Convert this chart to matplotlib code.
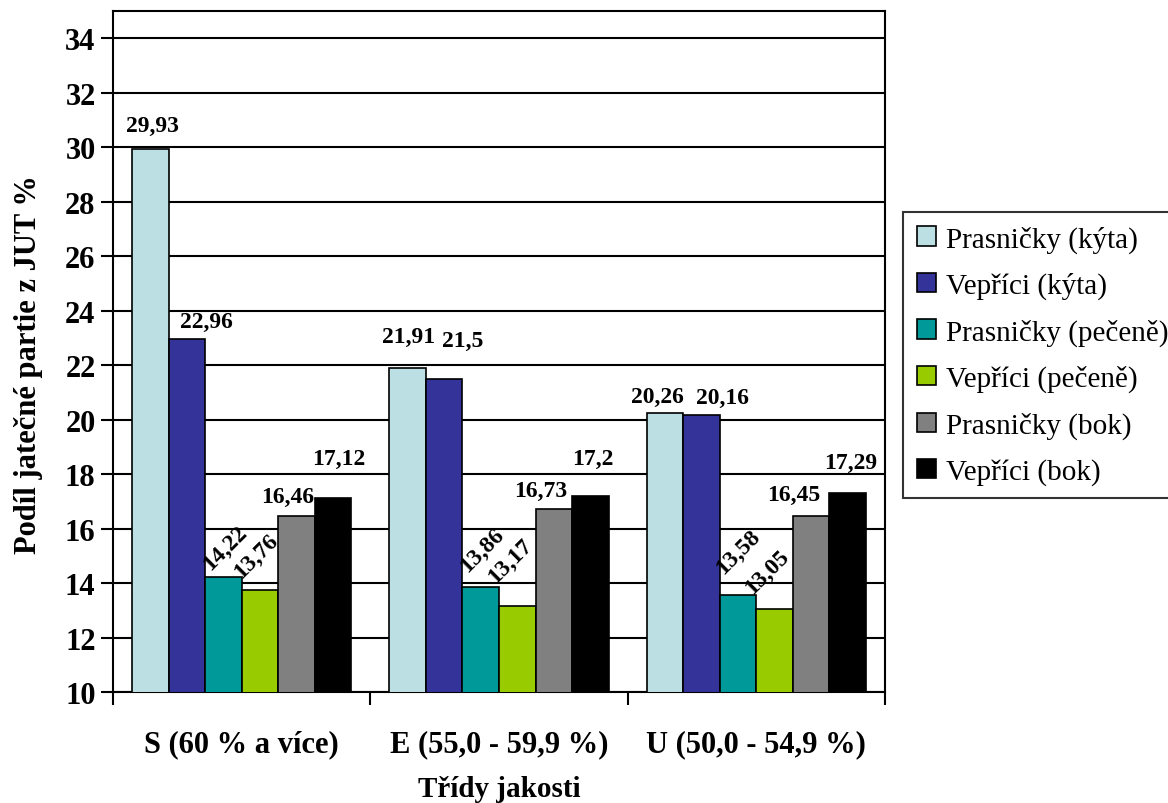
import numpy as np
import matplotlib
matplotlib.use("Agg")
import matplotlib.pyplot as plt

plt.rcParams['font.family'] = ['Liberation Serif', 'DejaVu Serif']

# quality classes (lean meat share)
categories = ['S (60 % a více)', 'E (55,0 - 59,9 %)', 'U (50,0 - 54,9 %)']
series_names = ['Prasničky (kýta)', 'Vepříci (kýta)', 'Prasničky (pečeně)',
                'Vepříci (pečeně)', 'Prasničky (bok)', 'Vepříci (bok)']
values = [
    [29.93, 21.91, 20.26],
    [22.96, 21.5, 20.16],
    [14.22, 13.86, 13.58],
    [13.76, 13.17, 13.05],
    [16.46, 16.73, 16.45],
    [17.12, 17.2, 17.29],
]
labels = [
    ['29,93', '21,91', '20,26'],
    ['22,96', '21,5', '20,16'],
    ['14,22', '13,86', '13,58'],
    ['13,76', '13,17', '13,05'],
    ['16,46', '16,73', '16,45'],
    ['17,12', '17,2', '17,29'],
]
colors = ['#BBDFE2', '#333399', '#009999', '#99CC00', '#808080', '#000000']
rotated = [False, False, True, True, False, False]

# label offsets (pixels) from the top centre of each bar
label_dx = [[2, 1, -8], [20, 19, 21], [2, 1, 0], [-4, -7, -7], [-9, -13, -17], [6, 2, 3]]
label_dy = [[24, 31, 16], [18, 38, 18], [30, 37, 43], [34, 45, 38], [20, 18, 22], [40, 37, 31]]

fig = plt.figure(figsize=(11.68, 8.04), dpi=100)
ax = fig.add_axes([0.0967, 0.138, 0.661, 0.847])

x = np.arange(len(categories))
width = 0.142
n = len(series_names)
for i in range(n):
    pos = x + (i - (n - 1) / 2) * width
    bars = ax.bar(pos, values[i], width, bottom=0, color=colors[i],
                  edgecolor='black', linewidth=1.2, label=series_names[i], zorder=3)
    for j, b in enumerate(bars):
        ax.annotate(labels[i][j],
                    (b.get_x() + b.get_width() / 2, values[i][j]),
                    xytext=(label_dx[i][j], label_dy[i][j]), textcoords='offset pixels',
                    ha='center', va='center', fontsize=17, fontweight='bold',
                    rotation=45 if rotated[i] else 0, zorder=4)

ax.set_ylim(10, 35)
ax.set_xlim(-0.5, 2.5)
ax.set_yticks(range(10, 35, 2))
ax.yaxis.grid(True, color='black', linewidth=1.5, zorder=0)
ax.tick_params(axis='y', direction='out', length=9, width=1.5, labelsize=22, pad=3.5)
for t in ax.get_yticklabels():
    t.set_fontweight('bold')

ax.set_xticks(x)
ax.set_xticklabels(categories, fontsize=22, fontweight='bold')
ax.set_xticks([-0.5, 0.5, 1.5, 2.5], minor=True)
ax.tick_params(axis='x', which='major', length=0, pad=26.5)
ax.tick_params(axis='x', which='minor', direction='out', length=9, width=1.5)

for s in ax.spines.values():
    s.set_linewidth(1.5)
    s.set_color('black')

ax.set_xlabel('Třídy jakosti', fontsize=21, fontweight='bold', labelpad=12)
ax.set_ylabel('Podíl jatečné partie z JUT %', fontsize=22, fontweight='bold', labelpad=16, y=0.482)

leg = ax.legend(loc='upper left', bbox_to_anchor=(0.7735, 0.735), bbox_transform=fig.transFigure,
                fontsize=21, frameon=True, fancybox=False, edgecolor='black',
                handlelength=0.65, handleheight=0.65, handletextpad=0.35,
                labelspacing=0.66, borderpad=0.45, borderaxespad=0)
leg.get_frame().set_linewidth(1.5)

fig.savefig('out.png', dpi=100)
